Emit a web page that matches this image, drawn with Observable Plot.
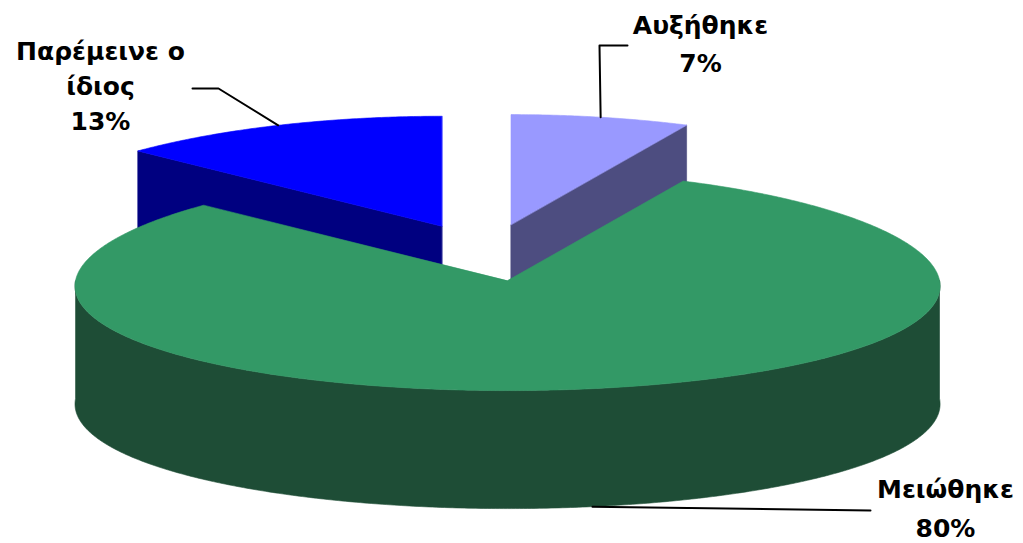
<!DOCTYPE html>
<html><head><meta charset="utf-8">
<script src="https://cdn.jsdelivr.net/npm/d3@7"></script>
<script src="https://cdn.jsdelivr.net/npm/@observablehq/plot@0.6"></script>
<style>html,body{margin:0;padding:0;background:#fff;overflow:hidden}#chart{width:1023px;height:543px}</style>
</head><body><div id="chart"></div>
<script>
// ---- data ----
const categories = ["Αυξήθηκε", "Μειώθηκε", "Παρέμεινε ο ίδιος"];
const values = [7, 80, 13];
const labelNames = ["Αυξήθηκε", "Μειώθηκε", "Παρέμεινε ο\nίδιος"];
const topColors = ["#9999FF", "#339966", "#0000FF"];
const sideColors = ["#4D4D80", "#1E4D36", "#000080"];

// ---- layout ----
const W = 1023, H = 543;
const CX = 486, CY = 252, RX = 432;
const TILT = 110 / 432, DEPTH = 118 / 432, EXPLODE = 0.26, PERSP = 0.05;
const FONT = "DejaVu Sans, Verdana, sans-serif";
const labelLayout = [
  {tx: 700, ty: 25.5, gap: 37.5, elbow: [[599, 45], [627, 45]]},
  {tx: 945, ty: 489.5, gap: 38.5, elbow: [[870, 510]]},
  {tx: 100, ty: 51, gap: 35, elbow: [[218, 88], [192, 88]]}
];

const rad = d => d * Math.PI / 180;
const px2u = ([px, py]) => ({x: (px - CX) / RX, y: (py - CY) / RX});

const total = d3.sum(values);
let acc = 0;
const slices = values.map((v, i) => {
  const a0 = acc / total * 360; acc += v; const a1 = acc / total * 360;
  const am = (a0 + a1) / 2;
  const ox = Math.sin(rad(am)) * EXPLODE;
  const oy = -Math.cos(rad(am)) * TILT * EXPLODE;
  return {i, a0, a1, am, ox, oy};
});
// point on the rim of a slice (slight perspective: the far side is narrower)
const pt = (s, a, dz = 0) => ({
  x: s.ox + Math.sin(rad(a)) * (1 - PERSP * Math.cos(rad(a))),
  y: s.oy - Math.cos(rad(a)) * TILT + dz
});
const arc = (s, from, to, dz = 0) => {
  const n = Math.max(2, Math.ceil(Math.abs(to - from) / 0.5));
  return d3.range(n + 1).map(k => pt(s, from + (to - from) * k / n, dz));
};

const marks = [];
const order = [...slices].sort((a, b) => a.oy - b.oy);
for (const s of order) {
  const apex = {x: s.ox, y: s.oy}, apexB = {x: s.ox, y: s.oy + DEPTH};
  const side = sideColors[s.i], top = topColors[s.i];
  const faces = [];
  const addRadial = (a, phi) => {
    if (Math.cos(rad(phi)) < -1e-6) faces.push([apex, pt(s, a), pt(s, a, DEPTH), apexB]);
  };
  addRadial(s.a0, s.a0 - 90);
  addRadial(s.a1, s.a1 + 90);
  const lo = Math.max(s.a0, 90), hi = Math.min(s.a1, 270);
  if (lo < hi) faces.push([...arc(s, lo, hi), ...arc(s, hi, lo, DEPTH)]);
  for (const f of faces) {
    marks.push(Plot.line(f, {x: "x", y: "y", fill: side, stroke: side, strokeWidth: 0.6, curve: "linear-closed"}));
  }
  marks.push(Plot.line([apex, ...arc(s, s.a0, s.a1)], {x: "x", y: "y", fill: top, stroke: top, strokeWidth: 0.6, curve: "linear-closed"}));
}

// leader lines and labels
slices.forEach((s, i) => {
  const L = labelLayout[i];
  const front = s.am > 90 && s.am < 270;
  const start = pt(s, s.am, front ? DEPTH : 0);
  marks.push(Plot.line([start, ...L.elbow.map(px2u)], {x: "x", y: "y", stroke: "#000", strokeWidth: 2}));
  const lines = `${labelNames[i]}\n${values[i]}%`.split("\n");
  const rows = lines.map((t, k) => ({...px2u([L.tx, L.ty + k * L.gap]), t}));
  marks.push(Plot.text(rows, {
    x: "x", y: "y", text: "t", textAnchor: "middle", lineAnchor: "middle",
    fontSize: 25, fontWeight: "bold", fontFamily: FONT, fill: "#000"
  }));
});

const chart = Plot.plot({
  width: W, height: H, margin: 0,
  style: {background: "#fff", overflow: "visible"},
  x: {domain: [-1, 1], range: [CX - RX, CX + RX], axis: null},
  y: {domain: [-1, 1], range: [CY - RX, CY + RX], axis: null},
  marks
});
document.getElementById("chart").append(chart);
</script></body></html>
